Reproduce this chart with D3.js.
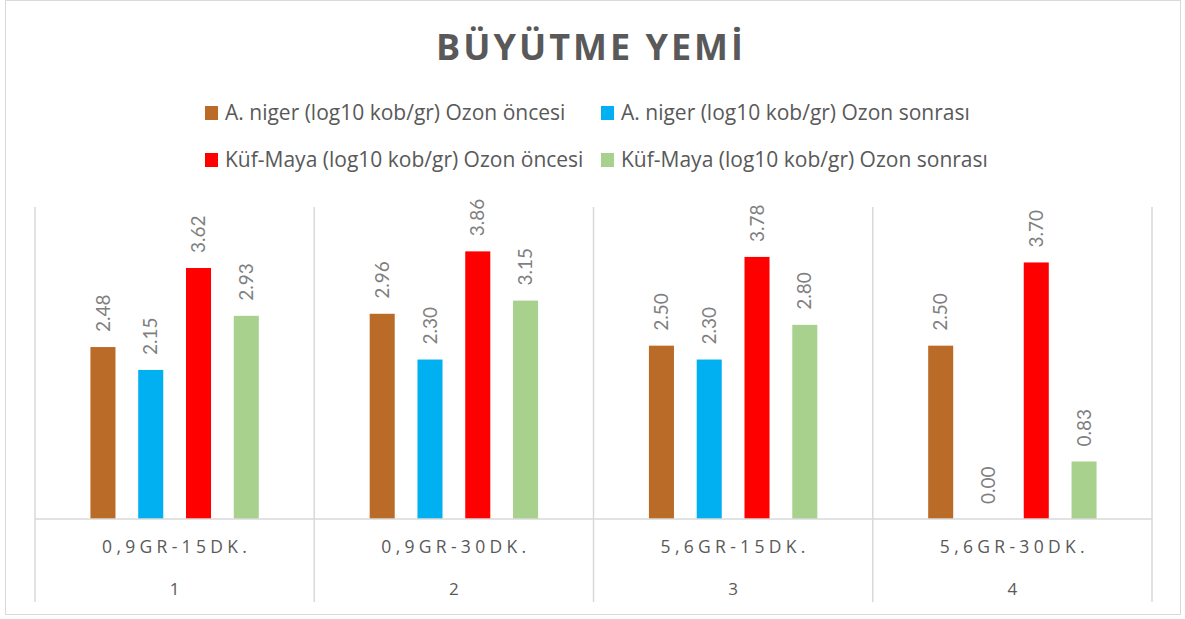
<!DOCTYPE html>
<html>
<head>
<meta charset="utf-8">
<script src="https://cdn.jsdelivr.net/npm/d3@7"></script>
<style>
  body { margin: 0; background: #fff; }
  svg text { font-family: "Open Sans", sans-serif; }
</style>
</head>
<body>
<div id="chart"></div>
<script>
// Chart data
const categories = ['0,9GR-15DK.', '0,9GR-30DK.', '5,6GR-15DK.', '5,6GR-30DK.'];
const groupLabels = ['1', '2', '3', '4'];
const seriesNames = [
    'A. niger (log10 kob/gr) Ozon öncesi',
    'A. niger (log10 kob/gr) Ozon sonrası',
    'Küf-Maya (log10 kob/gr) Ozon öncesi',
    'Küf-Maya (log10 kob/gr) Ozon sonrası'
];
const nigerBefore = [2.48, 2.96, 2.50, 2.50];
const nigerAfter = [2.15, 2.30, 2.30, 0.00];
const moldBefore = [3.62, 3.86, 3.78, 3.70];
const moldAfter = [2.93, 3.15, 2.80, 0.83];
const colors = ['#BA6B28', '#00B0F0', '#FF0000', '#A9D18E'];

const seriesValues = [nigerBefore, nigerAfter, moldBefore, moldAfter];

const width = 1185, height = 619;
const margin = { top: 207, right: 33, bottom: 100, left: 35 };

const svg = d3.select('#chart').append('svg')
    .attr('width', width)
    .attr('height', height);

// outer frame
svg.append('rect')
    .attr('x', 5.5).attr('y', 0.5)
    .attr('width', 1175).attr('height', 614)
    .attr('fill', '#fff')
    .attr('stroke', '#D9D9D9');

const x0 = d3.scaleBand()
    .domain(categories)
    .range([margin.left, width - margin.right]);

const x1 = d3.scaleBand()
    .domain(seriesNames)
    .range([0, x0.bandwidth()])
    .paddingInner(0.476)
    .paddingOuter(1.16);

const y = d3.scaleLinear()
    .domain([0, 4.5])
    .range([height - margin.bottom, margin.top]);

// title
svg.append('text')
    .attr('x', 591)
    .attr('y', 60)
    .attr('text-anchor', 'middle')
    .style('font-weight', 'bold')
    .style('font-size', '36px')
    .style('letter-spacing', '3px')
    .attr('fill', '#595959')
    .text('BÜYÜTME YEMİ');

// legend
const legend = svg.append('g')
    .selectAll('g')
    .data(seriesNames)
    .join('g')
    .attr('transform', (d, i) => `translate(${i % 2 ? 601 : 205},${Math.floor(i / 2) ? 160 : 113})`);

legend.append('rect')
    .attr('x', 0).attr('y', -7)
    .attr('width', 13).attr('height', 14)
    .attr('fill', (d, i) => colors[i]);

legend.append('text')
    .attr('x', 20)
    .attr('dy', '0.35em')
    .style('font-size', '21px')
    .attr('fill', '#595959')
    .text(d => d);

// category boundary lines
const bounds = categories.map(c => x0(c)).concat([x0.range()[1]]);
svg.append('g')
    .selectAll('line')
    .data(bounds)
    .join('line')
    .attr('x1', d => d).attr('x2', d => d)
    .attr('y1', margin.top).attr('y2', 602)
    .attr('stroke', '#D9D9D9')
    .attr('stroke-width', 1.5);

// bars
const groups = svg.append('g')
    .selectAll('g')
    .data(categories)
    .join('g')
    .attr('transform', d => `translate(${x0(d)},0)`);

groups.selectAll('rect')
    .data((c, ci) => seriesNames.map((s, si) => ({ s, si, v: seriesValues[si][ci] })))
    .join('rect')
    .attr('x', d => x1(d.s))
    .attr('y', d => y(d.v))
    .attr('width', x1.bandwidth())
    .attr('height', d => y(0) - y(d.v))
    .attr('fill', d => colors[d.si]);

groups.selectAll('text.val')
    .data((c, ci) => seriesNames.map((s, si) => ({ s, si, v: seriesValues[si][ci] })))
    .join('text')
    .attr('class', 'val')
    .attr('transform', d => `translate(${x1(d.s) + x1.bandwidth() / 2},${y(d.v) - 15}) rotate(-90)`)
    .attr('dy', '0.35em')
    .style('font-family', 'Lato, sans-serif')
    .style('font-size', '19px')
    .attr('fill', '#7F7F7F')
    .text(d => d.v.toFixed(2));

// baseline
svg.append('line')
    .attr('x1', margin.left).attr('x2', width - margin.right)
    .attr('y1', y(0)).attr('y2', y(0))
    .attr('stroke', '#D9D9D9')
    .attr('stroke-width', 1.5);

// axis labels
svg.append('g')
    .selectAll('text')
    .data(categories)
    .join('text')
    .attr('x', d => x0(d) + x0.bandwidth() / 2 + 2)
    .attr('y', 547)
    .attr('dy', '0.35em')
    .attr('text-anchor', 'middle')
    .style('font-size', '17.5px')
    .style('letter-spacing', '4.3px')
    .attr('fill', '#595959')
    .text(d => d);

svg.append('g')
    .selectAll('text')
    .data(groupLabels)
    .join('text')
    .attr('x', (d, i) => x0(categories[i]) + x0.bandwidth() / 2)
    .attr('y', 589)
    .attr('dy', '0.35em')
    .attr('text-anchor', 'middle')
    .style('font-size', '17px')
    .attr('fill', '#595959')
    .text(d => d);
</script>
</body>
</html>
